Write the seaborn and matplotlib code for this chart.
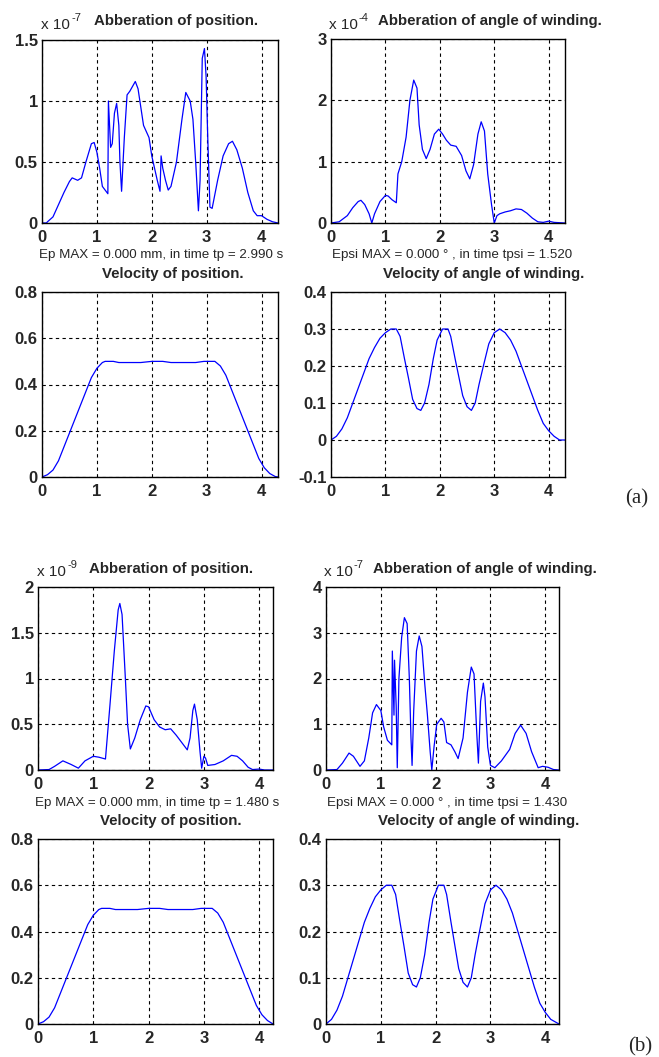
import numpy as np
import pandas as pd
import matplotlib
matplotlib.use("Agg")
import matplotlib.pyplot as plt
import seaborn as sns

# (a) aberration of position, x 1e-7
a_pos_t = [0, 0.08, 0.1, 0.2, 0.3, 0.4, 0.5, 0.55, 0.65, 0.72, 0.8, 0.9, 0.95, 1.0, 1.05, 1.1, 1.2,
           1.21, 1.25, 1.28, 1.32, 1.36, 1.4, 1.42, 1.45, 1.5, 1.55, 1.6, 1.65, 1.7, 1.75, 1.8, 1.85,
           1.9, 1.95, 2.0, 2.1, 2.15, 2.17, 2.2, 2.25, 2.3, 2.35, 2.45, 2.55, 2.62, 2.7, 2.75, 2.8,
           2.85, 2.88, 2.92, 2.96, 2.99, 3.02, 3.06, 3.1, 3.2, 3.3, 3.4, 3.47, 3.55, 3.65, 3.75,
           3.85, 3.92, 4.0, 4.1, 4.2, 4.3]
a_pos_err = [0, 0, 0.01, 0.05, 0.15, 0.25, 0.34, 0.37, 0.35, 0.37, 0.5, 0.65, 0.66, 0.58, 0.45, 0.3, 0.24,
             1.0, 0.62, 0.65, 0.9, 0.98, 0.8, 0.5, 0.26, 0.7, 1.05, 1.08, 1.12, 1.16, 1.1, 0.95, 0.8,
             0.75, 0.7, 0.55, 0.35, 0.26, 0.55, 0.45, 0.35, 0.27, 0.3, 0.5, 0.85, 1.07, 1.0, 0.85, 0.5,
             0.1, 0.35, 1.35, 1.43, 1.2, 0.7, 0.13, 0.12, 0.35, 0.55, 0.65, 0.67, 0.6, 0.45, 0.25,
             0.1, 0.06, 0.06, 0.03, 0.01, 0.0]

# (a) aberration of angle of winding, x 1e-4
a_ang_t = [0, 0.15, 0.3, 0.4, 0.5, 0.55, 0.62, 0.7, 0.75, 0.8, 0.9, 1.0, 1.05, 1.12, 1.2, 1.23, 1.3,
           1.38, 1.45, 1.52, 1.58, 1.62, 1.68, 1.75, 1.82, 1.9, 1.98, 2.05, 2.12, 2.2, 2.3, 2.4, 2.48,
           2.55, 2.62, 2.7, 2.76, 2.82, 2.88, 2.95, 3.0, 3.05, 3.1, 3.2, 3.3, 3.4, 3.5, 3.6, 3.7,
           3.8, 3.9, 4.0, 4.1, 4.3]
a_ang_err = [0, 0.02, 0.12, 0.25, 0.35, 0.37, 0.3, 0.15, 0.0, 0.15, 0.35, 0.45, 0.44, 0.38, 0.33, 0.8, 1.0,
             1.4, 2.0, 2.33, 2.2, 1.6, 1.2, 1.05, 1.2, 1.45, 1.53, 1.45, 1.35, 1.27, 1.25, 1.1, 0.85,
             0.72, 0.95, 1.45, 1.65, 1.5, 0.8, 0.3, 0.0, 0.12, 0.15, 0.18, 0.2, 0.23, 0.22, 0.16, 0.08,
             0.02, 0.01, 0.03, 0.01, 0.0]

# (a) velocity of position
a_vel_t = [0, 0.1, 0.2, 0.3, 0.4, 0.5, 0.6, 0.7, 0.8, 0.9, 1.0, 1.1, 1.15, 1.3, 1.4, 1.6, 1.8, 2.0,
           2.2, 2.35, 2.6, 2.8, 2.95, 3.15, 3.25, 3.35, 3.45, 3.55, 3.65, 3.75, 3.85, 3.95, 4.05,
           4.15, 4.25, 4.3]
a_vel = [0, 0.01, 0.03, 0.07, 0.13, 0.19, 0.25, 0.31, 0.37, 0.43, 0.47, 0.495, 0.5, 0.5, 0.495, 0.495,
         0.495, 0.5, 0.5, 0.495, 0.495, 0.495, 0.5, 0.5, 0.48, 0.44, 0.38, 0.32, 0.26, 0.2, 0.14,
         0.08, 0.04, 0.015, 0.002, 0]

# (a) velocity of angle of winding
a_wvel_t = [0, 0.1, 0.2, 0.3, 0.4, 0.5, 0.6, 0.7, 0.8, 0.9, 1.0, 1.1, 1.2, 1.27, 1.35, 1.42, 1.5,
            1.58, 1.65, 1.72, 1.8, 1.88, 1.95, 2.05, 2.15, 2.2, 2.28, 2.35, 2.42, 2.5, 2.58, 2.65,
            2.72, 2.8, 2.9, 3.0, 3.1, 3.2, 3.3, 3.4, 3.5, 3.6, 3.7, 3.8, 3.9, 4.0, 4.1, 4.2, 4.3]
a_wvel = [0, 0.01, 0.03, 0.06, 0.1, 0.14, 0.18, 0.22, 0.25, 0.275, 0.29, 0.3, 0.3, 0.28, 0.22, 0.17,
          0.11, 0.085, 0.08, 0.1, 0.15, 0.22, 0.27, 0.3, 0.3, 0.28, 0.22, 0.17, 0.12, 0.09, 0.08, 0.1,
          0.15, 0.2, 0.26, 0.29, 0.3, 0.29, 0.27, 0.24, 0.2, 0.16, 0.12, 0.08, 0.045, 0.025, 0.01,
          0.0, 0.0]

# (b) aberration of position, x 1e-9
b_pos_t = [0, 0.2, 0.3, 0.45, 0.6, 0.73, 0.85, 1.0, 1.1, 1.22, 1.3, 1.38, 1.45, 1.48, 1.52, 1.58,
           1.62, 1.67, 1.75, 1.85, 1.95, 2.0, 2.1, 2.2, 2.3, 2.4, 2.5, 2.6, 2.7, 2.75, 2.8, 2.83,
           2.88, 2.93, 2.96, 3.0, 3.03, 3.07, 3.2, 3.35, 3.5, 3.6, 3.7, 3.8, 3.88, 4.0, 4.1, 4.25]
b_pos_err = [0, 0.005, 0.04, 0.1, 0.06, 0.02, 0.1, 0.15, 0.14, 0.12, 0.7, 1.3, 1.75, 1.82, 1.7, 1.0,
             0.5, 0.23, 0.35, 0.55, 0.7, 0.69, 0.55, 0.47, 0.44, 0.45, 0.38, 0.3, 0.22, 0.35, 0.65, 0.72,
             0.55, 0.2, 0.02, 0.15, 0.13, 0.05, 0.06, 0.1, 0.16, 0.15, 0.1, 0.03, 0.005, 0.01, 0.0, 0.0]

# (b) aberration of angle of winding, x 1e-7
b_ang_t = [0, 0.2, 0.3, 0.42, 0.5, 0.62, 0.7, 0.78, 0.85, 0.92, 1.0, 1.05, 1.12, 1.2, 1.21, 1.24,
           1.25, 1.28, 1.3, 1.33, 1.38, 1.43, 1.48, 1.52, 1.55, 1.57, 1.6, 1.65, 1.7, 1.75, 1.8, 1.85,
           1.9, 1.93, 1.97, 2.02, 2.1, 2.15, 2.2, 2.28, 2.35, 2.41, 2.5, 2.58, 2.65, 2.7, 2.75, 2.78,
           2.82, 2.87, 2.9, 2.95, 3.0, 3.08, 3.2, 3.35, 3.45, 3.55, 3.65, 3.75, 3.87, 3.95, 4.05,
           4.15, 4.25]
b_ang_err = [0, 0.01, 0.15, 0.37, 0.3, 0.08, 0.2, 0.7, 1.25, 1.43, 1.3, 0.95, 0.65, 0.55, 2.6, 1.2,
             2.4, 1.4, 0.05, 2.0, 2.9, 3.33, 3.2, 2.0, 0.7, 0.1, 1.3, 2.6, 2.93, 2.7, 1.9, 1.2,
             0.4, 0.0, 0.5, 1.0, 1.13, 1.05, 0.6, 0.55, 0.4, 0.25, 0.7, 1.7, 2.25, 2.1, 0.8, 0.15,
             1.5, 1.9, 1.6, 0.5, 0.1, 0.05, 0.2, 0.45, 0.8, 0.98, 0.8, 0.4, 0.05, 0.08, 0.06,
             0.01, 0.0]

# (b) velocity of position
b_vel_t = [0, 0.1, 0.2, 0.3, 0.4, 0.5, 0.6, 0.7, 0.8, 0.9, 1.0, 1.1, 1.15, 1.3, 1.4, 1.6, 1.8, 2.0,
           2.2, 2.35, 2.6, 2.8, 2.95, 3.15, 3.25, 3.35, 3.45, 3.55, 3.65, 3.75, 3.85, 3.95, 4.05,
           4.15, 4.25]
b_vel = [0, 0.01, 0.03, 0.07, 0.13, 0.19, 0.25, 0.31, 0.37, 0.43, 0.47, 0.495, 0.5, 0.5, 0.495, 0.495,
         0.495, 0.5, 0.5, 0.495, 0.495, 0.495, 0.5, 0.5, 0.48, 0.44, 0.38, 0.32, 0.26, 0.2, 0.14,
         0.08, 0.04, 0.015, 0.0]

# (b) velocity of angle of winding
b_wvel_t = [0, 0.1, 0.2, 0.3, 0.4, 0.5, 0.6, 0.7, 0.8, 0.9, 1.0, 1.1, 1.2, 1.27, 1.35, 1.42, 1.5,
            1.58, 1.65, 1.72, 1.8, 1.88, 1.95, 2.05, 2.15, 2.2, 2.28, 2.35, 2.42, 2.5, 2.58, 2.65,
            2.72, 2.8, 2.9, 3.0, 3.1, 3.2, 3.3, 3.4, 3.5, 3.6, 3.7, 3.8, 3.9, 4.0, 4.1, 4.25]
b_wvel = [0, 0.01, 0.03, 0.06, 0.1, 0.14, 0.18, 0.22, 0.25, 0.275, 0.29, 0.3, 0.3, 0.28, 0.22, 0.17,
          0.11, 0.085, 0.08, 0.1, 0.15, 0.22, 0.27, 0.3, 0.3, 0.28, 0.22, 0.17, 0.12, 0.09, 0.08, 0.1,
          0.15, 0.2, 0.26, 0.29, 0.3, 0.29, 0.27, 0.24, 0.2, 0.16, 0.12, 0.08, 0.045, 0.025, 0.01,
          0.0]

x_ticks = [0, 1, 2, 3, 4]
ticks_err_a1 = [0, 0.5, 1, 1.5]
ticks_err_a2 = [0, 1, 2, 3]
ticks_vel = [0, 0.2, 0.4, 0.6, 0.8]
ticks_wvel_a = [-0.1, 0, 0.1, 0.2, 0.3, 0.4]
ticks_err_b1 = [0, 0.5, 1, 1.5, 2]
ticks_err_b2 = [0, 1, 2, 3, 4]
ticks_wvel_b = [0, 0.1, 0.2, 0.3, 0.4]

sns.set_style("white")
plt.rcParams['font.family'] = ['Liberation Sans', 'DejaVu Sans']

W, H = 659, 1057
fig = plt.figure(figsize=(W / 100, H / 100), dpi=100)


def box(l, r, t, b):
    return [l / W, 1 - b / H, (r - l) / W, (b - t) / H]


def panel(rect, t, y, yticks, xmax):
    ax = fig.add_axes(box(*rect))
    df = pd.DataFrame({'t': t, 'y': y})
    sns.lineplot(data=df, x='t', y='y', ax=ax, color='#0000ff', linewidth=0.9)
    ax.set_xlim(0, xmax)
    ax.set_ylim(yticks[0], yticks[-1])
    ax.set_xticks(x_ticks)
    ax.set_xticklabels(['%g' % v for v in x_ticks])
    ax.set_yticks(yticks)
    ax.set_yticklabels(['%g' % v for v in yticks])
    ax.set_xlabel('')
    ax.set_ylabel('')
    ax.grid(True, color='black', linestyle=(0, (3, 3)), linewidth=0.8)
    for s in ax.spines.values():
        s.set_color('black')
        s.set_linewidth(1.0)
    ax.tick_params(direction='in', length=3, width=0.8, labelsize=12)
    ax.tick_params(axis='x', pad=5)
    ax.tick_params(axis='y', pad=3)
    for lab in ax.get_xticklabels() + ax.get_yticklabels():
        lab.set_fontweight('bold')
    return ax


def px(x, y, s, **kw):
    fig.text(x / W, 1 - y / H, s, **kw)


def scale(x, y, e):
    px(x, y, 'x 10', fontsize=11, va='baseline', ha='left')
    px(x + 30, y - 8, e, fontsize=8, va='baseline', ha='left')


title_kw = dict(fontsize=10.8, fontweight='bold', ha='center', va='baseline')
note_kw = dict(fontsize=9.6, ha='center', va='baseline')

# ---- (a) ----
panel((42, 278, 40, 223), a_pos_t, a_pos_err, ticks_err_a1, 4.3)
scale(41, 29, '-7')
px(176, 25, 'Abberation of position.', **title_kw)
px(161, 258, 'Ep MAX = 0.000 mm, in time tp = 2.990 s', **note_kw)

panel((331, 565, 39, 223), a_ang_t, a_ang_err, ticks_err_a2, 4.3)
scale(329, 29, '-4')
px(490, 25, 'Abberation of angle of winding.', **title_kw)
px(452, 258, 'Epsi MAX = 0.000 \u00b0 , in time tpsi = 1.520', **note_kw)

panel((42, 278, 292, 477), a_vel_t, a_vel, ticks_vel, 4.3)
px(173, 278, 'Velocity of position.', **title_kw)

panel((331, 565, 292, 477), a_wvel_t, a_wvel, ticks_wvel_a, 4.3)
px(484, 278, 'Velocity of angle of winding.', **title_kw)

px(625, 503, '(a)', fontsize=15, family=['Liberation Serif'], ha='left', va='baseline')

# ---- (b) ----
panel((38, 273, 587, 770), b_pos_t, b_pos_err, ticks_err_b1, 4.25)
scale(37, 576, '-9')
px(171, 573, 'Abberation of position.', **title_kw)
px(157, 806, 'Ep MAX = 0.000 mm, in time tp = 1.480 s', **note_kw)

panel((326, 559, 587, 770), b_ang_t, b_ang_err, ticks_err_b2, 4.25)
scale(324, 576, '-7')
px(485, 573, 'Abberation of angle of winding.', **title_kw)
px(447, 806, 'Epsi MAX = 0.000 \u00b0 , in time tpsi = 1.430', **note_kw)

panel((38, 273, 839, 1024), b_vel_t, b_vel, ticks_vel, 4.25)
px(171, 825, 'Velocity of position.', **title_kw)

panel((326, 559, 839, 1024), b_wvel_t, b_wvel, ticks_wvel_b, 4.25)
px(479, 825, 'Velocity of angle of winding.', **title_kw)

px(628, 1051, '(b)', fontsize=15, family=['Liberation Serif'], ha='left', va='baseline')

fig.savefig('out.png', dpi=100)
